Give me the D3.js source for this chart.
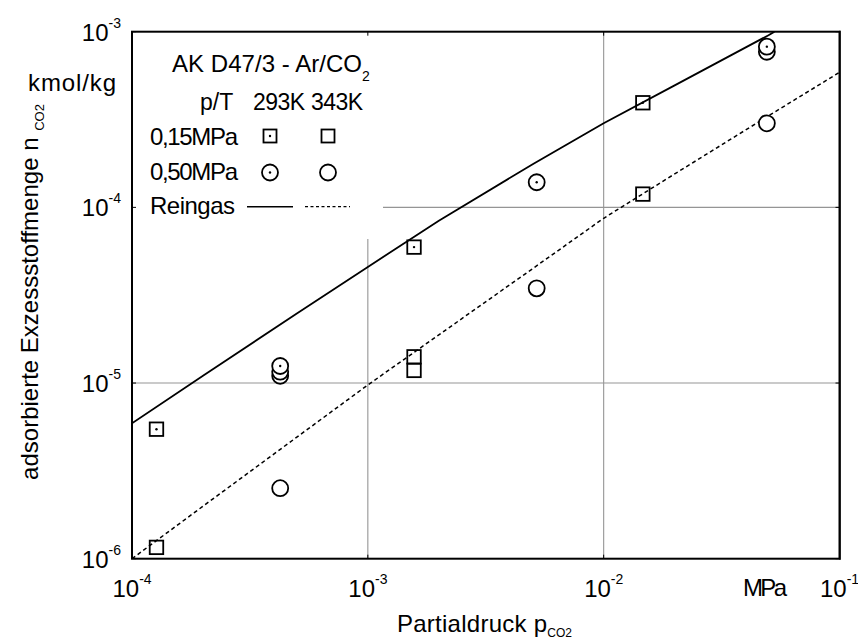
<!DOCTYPE html>
<html><head><meta charset="utf-8">
<script src="https://cdn.jsdelivr.net/npm/d3@7"></script>
<style>
html,body{margin:0;padding:0;background:#fff;}
svg text{font-family:"Liberation Sans",Arial,sans-serif;fill:#000;}
</style></head>
<body><svg id="c" width="858" height="642"></svg>
<script>
// ---- data ----
const xTickValues = [1e-4, 1e-3, 1e-2, 1e-1];
const xTickExp = ["-4", "-3", "-2", "-1"];
const yTickValues = [1e-6, 1e-5, 1e-4, 1e-3];
const yTickExp = ["-6", "-5", "-4", "-3"];

// 293 K, 0.15 MPa (square with dot)
const sq293X = [1.27e-4, 1.57e-3, 1.466e-2];
const sq293Y = [5.46e-6, 5.94e-5, 3.94e-4];
// 343 K, 0.15 MPa (open square)
const sq343X = [1.27e-4, 1.57e-3, 1.57e-3, 1.466e-2];
const sq343Y = [1.16e-6, 1.41e-5, 1.18e-5, 1.19e-4];
// 293 K, 0.50 MPa (circle with dot)
const ci293X = [4.25e-4, 4.25e-4, 4.25e-4, 5.20e-3, 4.92e-2, 4.92e-2];
const ci293Y = [1.10e-5, 1.16e-5, 1.25e-5, 1.39e-4, 7.69e-4, 8.22e-4];
// 343 K, 0.50 MPa (open circle)
const ci343X = [4.25e-4, 5.20e-3, 4.92e-2];
const ci343Y = [2.52e-6, 3.46e-5, 3.01e-4];

// Reingas 293 K (solid)
const pure293X = [1e-4, 2e-4, 5e-4, 1e-3, 2e-3, 5e-3, 1e-2, 2e-2, 5e-2, 5.3e-2];
const pure293Y = [5.9e-6, 1.10e-5, 2.49e-5, 4.58e-5, 8.4e-5, 1.76e-4, 3.01e-4, 4.95e-4, 9.55e-4, 1.0e-3];
// Reingas 343 K (dashed)
const pure343X = [1e-4, 2e-4, 5e-4, 1e-3, 2e-3, 5e-3, 1e-2, 2e-2, 5e-2, 1e-1];
const pure343Y = [1.0e-6, 1.99e-6, 4.92e-6, 9.75e-6, 1.88e-5, 4.48e-5, 8.67e-5, 1.55e-4, 3.32e-4, 5.87e-4];

// ---- layout ----
const L = 132, T = 31.7, R = 839.5, B = 558.7;
const svg = d3.select("#c");
const x = d3.scaleLog().domain([1e-4, 1e-1]).range([L, R]);
const y = d3.scaleLog().domain([1e-6, 1e-3]).range([B, T]);
const FS = 24;

// grid
const grid = svg.append("g").attr("stroke", "#959595").attr("stroke-width", 1.1);
grid.append("line").attr("x1", x(1e-3)).attr("x2", x(1e-3)).attr("y1", 239).attr("y2", B);
grid.append("line").attr("x1", x(1e-2)).attr("x2", x(1e-2)).attr("y1", T).attr("y2", B);
grid.append("line").attr("x1", 383).attr("x2", R).attr("y1", y(1e-4)).attr("y2", y(1e-4));
grid.append("line").attr("x1", L).attr("x2", R).attr("y1", y(1e-5)).attr("y2", y(1e-5));

// inner ticks
const tk = svg.append("g").attr("stroke", "#000").attr("stroke-width", 1);
xTickValues.forEach(v => {
  tk.append("line").attr("x1", x(v)).attr("x2", x(v)).attr("y1", T).attr("y2", T + 4);
  tk.append("line").attr("x1", x(v)).attr("x2", x(v)).attr("y1", B).attr("y2", B - 4);
});
yTickValues.forEach(v => {
  tk.append("line").attr("x1", L).attr("x2", L + 4).attr("y1", y(v)).attr("y2", y(v));
  tk.append("line").attr("x1", R).attr("x2", R - 4).attr("y1", y(v)).attr("y2", y(v));
});

// clip
svg.append("clipPath").attr("id", "clip").append("rect")
  .attr("x", L).attr("y", T).attr("width", R - L).attr("height", B - T);

const line = d3.line().x(d => x(d[0])).y(d => y(d[1]));
const plot = svg.append("g").attr("clip-path", "url(#clip)");
plot.append("path").datum(d3.zip(pure293X, pure293Y)).attr("d", line)
  .attr("fill", "none").attr("stroke", "#000").attr("stroke-width", 1.8);
plot.append("path").datum(d3.zip(pure343X, pure343Y)).attr("d", line)
  .attr("fill", "none").attr("stroke", "#000").attr("stroke-width", 1.5)
  .attr("stroke-dasharray", "4,3");

// markers
const SQ = 13.5, CR = 8;
function square(g, cx, cy, dot, s) {
  s = s || SQ;
  g.append("rect").attr("x", cx - s / 2).attr("y", cy - s / 2).attr("width", s).attr("height", s)
    .attr("fill", "none").attr("stroke", "#000").attr("stroke-width", 1.8);
  if (dot) g.append("circle").attr("cx", cx).attr("cy", cy).attr("r", 1.2).attr("fill", "#000");
}
function circle(g, cx, cy, dot, r) {
  r = r || CR;
  g.append("circle").attr("cx", cx).attr("cy", cy).attr("r", r)
    .attr("fill", "#fff").attr("stroke", "#000").attr("stroke-width", 1.8);
  if (dot) g.append("circle").attr("cx", cx).attr("cy", cy).attr("r", 1.2).attr("fill", "#000");
}
const mk = svg.append("g");
d3.zip(sq293X, sq293Y).forEach(d => square(mk, x(d[0]), y(d[1]), true));
d3.zip(sq343X, sq343Y).forEach(d => square(mk, x(d[0]), y(d[1]), false));
d3.zip(ci343X, ci343Y).forEach(d => circle(mk, x(d[0]), y(d[1]), false));
d3.zip(ci293X, ci293Y).forEach(d => circle(mk, x(d[0]), y(d[1]), true));

// frame
svg.append("rect").attr("x", L).attr("y", T).attr("width", R - L).attr("height", B - T)
  .attr("fill", "none").attr("stroke", "#000").attr("stroke-width", 2);
svg.append("line").attr("x1", R + 0.5).attr("x2", R + 0.5).attr("y1", T - 1).attr("y2", B + 1)
  .attr("stroke", "#000").attr("stroke-width", 1.5);

// tick labels
function powLabel(xp, yp, exp, anchor) {
  const t = svg.append("text").attr("x", xp).attr("y", yp).attr("text-anchor", anchor)
    .style("font-size", FS + "px");
  t.append("tspan").text("10");
  t.append("tspan").attr("dy", -13).style("font-size", "14px").text(exp);
  return t;
}
yTickValues.forEach((v, i) => powLabel(121, y(v) + 9, yTickExp[i], "end"));
xTickValues.forEach((v, i) => powLabel(x(v) - 19.5, 597, xTickExp[i], "start"));

function label(xp, yp, s, len, fs) {
  const t = svg.append("text").attr("x", xp).attr("y", yp).style("font-size", (fs || FS) + "px").text(s);
  if (len) t.attr("textLength", len).attr("lengthAdjust", "spacing");
  return t;
}
label(743, 596, "MPa", 44);
label(28, 91, "kmol/kg", 88);

// axis titles
const xt = svg.append("text").attr("x", 397).attr("y", 632).style("font-size", FS + "px");
xt.append("tspan").attr("textLength", 150).attr("lengthAdjust", "spacing").text("Partialdruck p");
xt.append("tspan").attr("dy", 5).style("font-size", "12px").text("CO2");

const yt = svg.append("text").attr("transform", "translate(38,292) rotate(-90)")
  .attr("text-anchor", "middle").style("font-size", FS + "px");
yt.append("tspan").text("adsorbierte Exzessstoffmenge n ");
yt.append("tspan").attr("dy", 6).style("font-size", "13px").text("CO2");

// legend
const lg = svg.append("g");
const l1 = lg.append("text").attr("x", 172).attr("y", 72).style("font-size", FS + "px");
l1.append("tspan").attr("textLength", 190).attr("lengthAdjust", "spacing").text("AK D47/3 - Ar/CO");
l1.append("tspan").attr("dy", 9).style("font-size", "14px").text("2");
label(200, 110, "p/T", null, 23);
label(253, 110, "293K", 52, 23);
label(311, 110, "343K", 52, 23);
label(150, 145, "0,15MPa", 88);
label(150, 180, "0,50MPa", 88);
label(150, 214, "Reingas", 85);
square(lg, 270, 136, true, 13);
square(lg, 328, 136, false, 13);
circle(lg, 270, 172.5, true, 8);
circle(lg, 328, 172.5, false, 8);
lg.append("line").attr("x1", 247).attr("x2", 293).attr("y1", 206.7).attr("y2", 206.7)
  .attr("stroke", "#000").attr("stroke-width", 1.6);
lg.append("line").attr("x1", 305).attr("x2", 350).attr("y1", 206.7).attr("y2", 206.7)
  .attr("stroke", "#000").attr("stroke-width", 1.3).attr("stroke-dasharray", "3,2.5");
</script></body></html>
